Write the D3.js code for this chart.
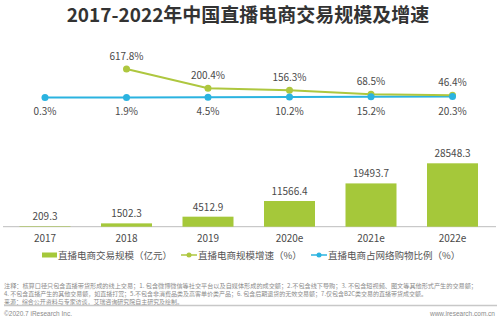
<!DOCTYPE html>
<html>
<head>
<meta charset="utf-8">
<script src="https://cdn.jsdelivr.net/npm/d3@7"></script>
<style>
  html, body { margin: 0; padding: 0; background: #fff; }
  svg { display: block; font-family: "Noto Sans CJK SC", "Open Sans", sans-serif; }
</style>
</head>
<body>
<svg id="chart" width="499" height="322"></svg>
<script>
// Years on the x axis
const categories = ["2017", "2018", "2019", "2020e", "2021e", "2022e"];
// Live-stream e-commerce transaction volume (100 million yuan)
const gmv = [209.3, 1502.3, 4512.9, 11566.4, 19493.7, 28548.3];
// Year-on-year growth of the volume (%), none for 2017
const growth = [null, 617.8, 200.4, 156.3, 68.5, 46.4];
// Share of total online shopping (%)
const share = [0.3, 1.9, 4.5, 10.2, 15.2, 20.3];

const title = "2017-2022年中国直播电商交易规模及增速";
const legendLabels = ["直播电商交易规模（亿元）", "直播电商规模增速（%）", "直播电商占网络购物比例（%）"];
const notes = [
  "注释：核算口径只包含直播带货形成的线上交易；1. 包含微博微信等社交平台以及自媒体形成的成交额；2.不包含线下导购；3. 不包含短视频、图文等其他形式产生的交易额；",
  "4. 不包含直播产生的其他交易额，如直播打赏；5.不包含非消费品类及高客单价类产品；6. 包含后期退货的无效交易额；7.仅包含B2C类交易的直播带货成交额。",
  "来源：综合公开资料与专家访谈，艾瑞咨询研究院自主研究及绘制。"
];

const C_BAR = "#a5c83a", C_GROWTH = "#aec73f", C_SHARE = "#2bb3e0";
const C_TEXT = "#4a4a4a";

const svg = d3.select("#chart");

// Title
svg.append("text")
  .attr("x", 248).attr("y", 22)
  .attr("text-anchor", "middle")
  .attr("font-size", 19).attr("font-weight", "bold")
  .attr("fill", "#333")
  .text(title);

// Scales
const x = d3.scalePoint().domain(categories).range([45, 452.5]);
const baseY = 226.7;
const yBar = d3.scaleLinear().domain([0, 28548.3]).range([baseY, 163.3]);
const yRate = d3.scaleLinear().domain([0, 617.8]).range([97.5, 69]);
const barW = 51;

// Baseline axis
svg.append("line")
  .attr("x1", 3).attr("x2", 496)
  .attr("y1", baseY).attr("y2", baseY)
  .attr("stroke", "#bdbdbd").attr("stroke-width", 1);

// Category labels
svg.append("g").selectAll("text").data(categories).join("text")
  .attr("x", d => x(d)).attr("y", 242)
  .attr("text-anchor", "middle")
  .attr("font-size", 10).attr("fill", C_TEXT)
  .text(d => d);

// Bars
svg.append("g").selectAll("rect").data(gmv).join("rect")
  .attr("x", (d, i) => x(categories[i]) - barW / 2)
  .attr("width", barW)
  .attr("y", d => yBar(d))
  .attr("height", d => baseY - yBar(d))
  .attr("fill", C_BAR);

svg.append("g").selectAll("text").data(gmv).join("text")
  .attr("x", (d, i) => x(categories[i]))
  .attr("y", d => yBar(d) - 6)
  .attr("text-anchor", "middle")
  .attr("font-size", 10).attr("fill", C_TEXT)
  .text(d => d.toFixed(1));

// Share line (blue)
const shareLine = d3.line()
  .x((d, i) => x(categories[i]))
  .y(d => yRate(d));
svg.append("path").datum(share)
  .attr("d", shareLine)
  .attr("fill", "none").attr("stroke", C_SHARE).attr("stroke-width", 2);

// Growth line (green)
const growthPts = growth.map((v, i) => ({ v, c: categories[i] })).filter(d => d.v !== null);
svg.append("path").datum(growthPts)
  .attr("d", d3.line().x(d => x(d.c)).y(d => yRate(d.v)))
  .attr("fill", "none").attr("stroke", C_GROWTH).attr("stroke-width", 2);

svg.append("g").selectAll("circle").data(growthPts).join("circle")
  .attr("cx", d => x(d.c)).attr("cy", d => yRate(d.v))
  .attr("r", 3.5).attr("fill", C_GROWTH);

svg.append("g").selectAll("circle").data(share).join("circle")
  .attr("cx", (d, i) => x(categories[i])).attr("cy", d => yRate(d))
  .attr("r", 3.5).attr("fill", C_SHARE);

// Point labels
svg.append("g").selectAll("text").data(growthPts).join("text")
  .attr("x", d => x(d.c)).attr("y", d => yRate(d.v) - 9.5)
  .attr("text-anchor", "middle")
  .attr("font-size", 10).attr("fill", C_TEXT)
  .text(d => d.v.toFixed(1) + "%");

svg.append("g").selectAll("text").data(share).join("text")
  .attr("x", (d, i) => x(categories[i])).attr("y", 114.5)
  .attr("text-anchor", "middle")
  .attr("font-size", 10).attr("fill", C_TEXT)
  .text(d => d.toFixed(1) + "%");

// Legend
const legY = 255;
const lg = svg.append("g").attr("font-size", 9.5).attr("fill", "#555");
lg.append("rect").attr("x", 42).attr("y", legY - 2.5).attr("width", 15).attr("height", 5).attr("fill", C_BAR);
lg.append("text").attr("x", 58).attr("y", legY + 3.5).text(legendLabels[0]);
lg.append("line").attr("x1", 181).attr("x2", 197).attr("y1", legY).attr("y2", legY).attr("stroke", C_GROWTH).attr("stroke-width", 1.5);
lg.append("circle").attr("cx", 189).attr("cy", legY).attr("r", 2.5).attr("fill", C_GROWTH);
lg.append("text").attr("x", 198).attr("y", legY + 3.5).text(legendLabels[1]);
lg.append("line").attr("x1", 311).attr("x2", 327).attr("y1", legY).attr("y2", legY).attr("stroke", C_SHARE).attr("stroke-width", 1.5);
lg.append("circle").attr("cx", 319).attr("cy", legY).attr("r", 2.5).attr("fill", C_SHARE);
lg.append("text").attr("x", 328).attr("y", legY + 3.5).text(legendLabels[2]);

// Footnotes
const noteEnds = [477, 427, 183];
svg.append("g").selectAll("text").data(notes).join("text")
  .attr("x", 4).attr("y", (d, i) => 287.5 + i * 8)
  .attr("font-size", 6).attr("fill", "#8a8a8a")
  .attr("textLength", (d, i) => noteEnds[i] - 4)
  .attr("lengthAdjust", "spacingAndGlyphs")
  .text(d => d);

svg.append("line")
  .attr("x1", 4).attr("x2", 497)
  .attr("y1", 305.5).attr("y2", 305.5)
  .attr("stroke", "#c8c8c8").attr("stroke-width", 1.5);

svg.append("text")
  .attr("x", 4).attr("y", 315.5)
  .attr("font-size", 6.5).attr("fill", "#8a8a8a")
  .attr("font-family", "Liberation Sans, sans-serif")
  .text("©2020.7 iResearch Inc.");

svg.append("text")
  .attr("x", 495).attr("y", 315.5)
  .attr("text-anchor", "end")
  .attr("font-size", 6.5).attr("fill", "#8a8a8a")
  .attr("font-family", "Liberation Sans, sans-serif")
  .text("www.iresearch.com.cn");
</script>
</body>
</html>
